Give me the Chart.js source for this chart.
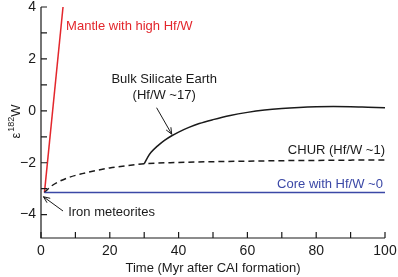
<!DOCTYPE html>
<html>
<head>
<meta charset="utf-8">
<script src="https://cdn.jsdelivr.net/npm/chart.js@4/dist/chart.umd.min.js"></script>
<style>
  html, body { margin: 0; padding: 0; background: #fff; }
  #wrap { width: 398px; height: 277px; }
</style>
</head>
<body>
<div id="wrap"><canvas id="chart"></canvas></div>
<script>
// tick values
const xTicks = [0, 20, 40, 60, 80, 100];
const xMinor = [10, 30, 50, 70, 90];
const yTicks = [-4, -2, 0, 2, 4];
const yMinor = [-3, -1, 1, 3];

// series (time in Myr, epsilon 182W)
const mantleX = [1, 6.4];
const mantleY = [-3.15, 4];
const coreX = [1, 100];
const coreY = [-3.15, -3.15];
const churX = [1, 3, 5, 8, 12, 16, 20, 25, 30, 40, 50, 60, 70, 80, 90, 100];
const churY = [-3.15, -2.9, -2.74, -2.57, -2.42, -2.3, -2.2, -2.11, -2.04, -1.99, -1.96, -1.94, -1.92, -1.91, -1.9, -1.89];
const bseX = [30, 31, 32, 34, 36, 38, 40, 43, 46, 50, 55, 60, 65, 70, 75, 80, 85, 90, 95, 100];
const bseY = [-2.04, -1.79, -1.6, -1.34, -1.13, -0.96, -0.82, -0.64, -0.49, -0.34, -0.18, -0.06, 0.03, 0.09, 0.13, 0.155, 0.165, 0.16, 0.14, 0.12];

const font = '"Liberation Sans", Arial, Helvetica, sans-serif';
const red = '#e3262c';
const blue = '#3b48a6';
const ink = '#1a1a1a';

const pts = (xs, ys) => xs.map((x, i) => ({ x: x, y: ys[i] }));

// labels and arrows in data units
const notes = [
    { text: 'Mantle with high Hf/W', x: 7.3, y: 3.25, align: 'left', color: red },
    { text: 'Bulk Silicate Earth', x: 35.8, y: 1.21, align: 'center', color: ink },
    { text: '(Hf/W ~17)', x: 35.8, y: 0.6, align: 'center', color: ink },
    { text: 'CHUR (Hf/W ~1)', x: 100, y: -1.53, align: 'right', color: ink },
    { text: 'Core with Hf/W ~0', x: 99.4, y: -2.83, align: 'right', color: blue },
    { text: 'Iron meteorites', x: 7.9, y: -3.9, align: 'left', color: ink }
];
const arrows = [
    { from: [33.6, 0.12], to: [38, -0.9] },
    { from: [6.4, -3.86], to: [0.7, -3.31] }
];

const extras = {
    id: 'extras',
    afterDraw(chart) {
        const ctx = chart.ctx;
        const xs = chart.scales.x, ys = chart.scales.y;
        const a = chart.chartArea;
        ctx.save();
        ctx.strokeStyle = ink;
        ctx.lineWidth = 1.2;
        // axis lines
        ctx.beginPath();
        ctx.moveTo(a.left, a.top);
        ctx.lineTo(a.left, a.bottom);
        ctx.lineTo(a.right, a.bottom);
        ctx.stroke();
        // inward ticks
        ctx.beginPath();
        xTicks.concat(xMinor).forEach(v => {
            const px = xs.getPixelForValue(v);
            ctx.moveTo(px, a.bottom);
            ctx.lineTo(px, a.bottom - 6);
        });
        yTicks.concat(yMinor).forEach(v => {
            const py = ys.getPixelForValue(v);
            ctx.moveTo(a.left, py);
            ctx.lineTo(a.left + 6, py);
        });
        ctx.stroke();

        // annotations
        ctx.font = '13px ' + font;
        ctx.textBaseline = 'middle';
        notes.forEach(n => {
            ctx.fillStyle = n.color;
            ctx.textAlign = n.align;
            ctx.fillText(n.text, xs.getPixelForValue(n.x), ys.getPixelForValue(n.y));
        });

        // arrows
        ctx.strokeStyle = ink;
        ctx.lineWidth = 1;
        arrows.forEach(ar => {
            const x1 = xs.getPixelForValue(ar.from[0]), y1 = ys.getPixelForValue(ar.from[1]);
            const x2 = xs.getPixelForValue(ar.to[0]), y2 = ys.getPixelForValue(ar.to[1]);
            const ang = Math.atan2(y2 - y1, x2 - x1);
            ctx.beginPath();
            ctx.moveTo(x1, y1);
            ctx.lineTo(x2, y2);
            ctx.moveTo(x2 - 7 * Math.cos(ang - 0.4), y2 - 7 * Math.sin(ang - 0.4));
            ctx.lineTo(x2, y2);
            ctx.lineTo(x2 - 7 * Math.cos(ang + 0.4), y2 - 7 * Math.sin(ang + 0.4));
            ctx.stroke();
        });

        // y axis title with superscript
        ctx.fillStyle = ink;
        ctx.translate(20, 122);
        ctx.rotate(-Math.PI / 2);
        ctx.textAlign = 'left';
        ctx.textBaseline = 'alphabetic';
        ctx.font = '13px ' + font;
        const wE = ctx.measureText('ε').width;
        ctx.font = '9px ' + font;
        const wS = ctx.measureText('182').width;
        ctx.font = '13px ' + font;
        const wW = ctx.measureText('W').width;
        let x0 = -(wE + wS + wW) / 2;
        ctx.fillText('ε', x0, 0);
        ctx.font = '9px ' + font;
        ctx.fillText('182', x0 + wE + 1, -6);
        ctx.font = '13px ' + font;
        ctx.fillText('W', x0 + wE + wS + 1, 0);
        ctx.restore();
    }
};

const line = (data, color, dash) => ({
    data: data,
    borderColor: color,
    borderWidth: 1.5,
    borderDash: dash || [],
    pointRadius: 0,
    fill: false,
    tension: 0.4,
    cubicInterpolationMode: 'monotone'
});

new Chart(document.getElementById('chart'), {
    type: 'line',
    data: {
        datasets: [
            line(pts(coreX, coreY), blue),
            line(pts(churX, churY), ink, [6, 4]),
            line(pts(bseX, bseY), ink),
            line(pts(mantleX, mantleY), red)
        ]
    },
    options: {
        responsive: true,
        maintainAspectRatio: false,
        animation: false,
        layout: { padding: 0 },
        plugins: {
            legend: { display: false },
            tooltip: { enabled: false }
        },
        scales: {
            x: {
                type: 'linear',
                min: 0,
                max: 100,
                grid: { display: false, drawTicks: false, tickLength: 0 },
                border: { display: false },
                afterBuildTicks: s => { s.ticks = xTicks.map(v => ({ value: v })); },
                afterFit: s => { s.height = 39; s.paddingLeft = 0; s.paddingRight = 13; },
                ticks: {
                    color: ink,
                    padding: 5,
                    maxRotation: 0,
                    font: { family: font, size: 14 }
                },
                title: {
                    display: true,
                    text: 'Time (Myr after CAI formation)',
                    color: ink,
                    padding: { top: 0, bottom: 1 },
                    font: { family: font, size: 13 }
                }
            },
            y: {
                type: 'linear',
                min: -4.9,
                max: 4,
                grid: { display: false, drawTicks: false, tickLength: 0 },
                border: { display: false },
                afterBuildTicks: s => { s.ticks = yTicks.map(v => ({ value: v })); },
                afterFit: s => { s.width = 41; s.paddingTop = 7; s.paddingBottom = 0; },
                ticks: {
                    color: ink,
                    padding: 5,
                    font: { family: font, size: 14 },
                    callback: v => String(v).replace('-', '\u2212')
                }
            }
        }
    },
    plugins: [extras]
});
</script>
</body>
</html>
